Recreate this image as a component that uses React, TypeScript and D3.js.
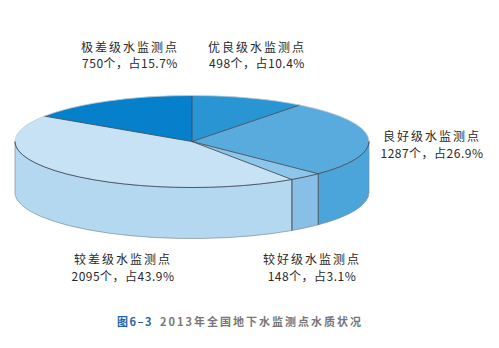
import React from "react";
import * as d3 from "d3";

const categories = ["优良级水监测点", "良好级水监测点", "较好级水监测点", "较差级水监测点", "极差级水监测点"];
const counts = [498, 1287, 148, 2095, 750];
const percents = ["10.4%", "26.9%", "3.1%", "43.9%", "15.7%"];
const topColors = ["#2995D3", "#5AABDD", "#8EC5EA", "#C6E2F4", "#0680CA"];
const sideColors = ["#1F8BCB", "#4BA5DA", "#88BFE6", "#B4D8EF", "#0574BA"];
const labelPos = [
  { x: 257, y: 51.5 },
  { x: 432, y: 141 },
  { x: 312, y: 264 },
  { x: 123, y: 264 },
  { x: 130, y: 51.5 },
];

const W = 499;
const H = 348;
const cx = 192;
const cy = 141.5;
const rx = 177;
const ry = 46;
const depth = 51;

export default function App() {
  const pie = d3.pie<number>().sort(null).startAngle(0).endAngle(2 * Math.PI);
  const arcs = pie(counts);
  const px = (a: number) => cx + rx * Math.sin(a);
  const py = (a: number) => cy - ry * Math.cos(a);

  const topPath = (a0: number, a1: number) => {
    const large = a1 - a0 > Math.PI ? 1 : 0;
    return `M${cx},${cy}L${px(a0)},${py(a0)}A${rx},${ry} 0 ${large} 1 ${px(a1)},${py(a1)}Z`;
  };
  const sidePath = (a0: number, a1: number) => {
    const s = Math.max(a0, Math.PI / 2);
    const e = Math.min(a1, (3 * Math.PI) / 2);
    if (e <= s) return null;
    return `M${px(s)},${py(s)}A${rx},${ry} 0 0 1 ${px(e)},${py(e)}L${px(e)},${py(e) + depth}A${rx},${ry} 0 0 0 ${px(s)},${py(s) + depth}Z`;
  };
  const frontArc = `M${px(Math.PI / 2)},${py(Math.PI / 2)}A${rx},${ry} 0 0 1 ${px((3 * Math.PI) / 2)},${py((3 * Math.PI) / 2)}`;
  const backArc = `M${px(-Math.PI / 2)},${py(-Math.PI / 2)}A${rx},${ry} 0 0 1 ${px(Math.PI / 2)},${py(Math.PI / 2)}`;

  const font = "'Noto Sans CJK SC', 'Noto Sans', sans-serif";

  return (
    <svg width={W} height={H} style={{ position: "absolute", left: 0, top: 0, background: "#fff" }}>
      <rect width={W} height={H} fill="#fff" />
      {arcs.map((a, i) => {
        const d = sidePath(a.startAngle, a.endAngle);
        return d ? <path key={"s" + i} d={d} fill={sideColors[i]} stroke="#7d8d9c" strokeWidth={0.7} /> : null;
      })}
      {arcs.map((a, i) =>
        a.startAngle > Math.PI / 2 && a.startAngle < (3 * Math.PI) / 2 ? (
          <line key={"v" + i} x1={px(a.startAngle)} y1={py(a.startAngle)} x2={px(a.startAngle)} y2={py(a.startAngle) + depth} stroke="#4d5d6c" strokeWidth={1} />
        ) : null
      )}
      {arcs.map((a, i) => (
        <path key={"t" + i} d={topPath(a.startAngle, a.endAngle)} fill={topColors[i]} />
      ))}
      {arcs.map((a, i) => (
        <line key={"r" + i} x1={cx} y1={cy} x2={px(a.startAngle)} y2={py(a.startAngle)} stroke="#3f4d5a" strokeWidth={0.9} />
      ))}
      <path d={backArc} fill="none" stroke="#c4ccd4" strokeWidth={0.8} />
      <path d={frontArc} fill="none" stroke="#3f4d5a" strokeWidth={0.9} />
      {arcs.map((a, i) => (
        <g key={"l" + i} fontFamily={font} fontSize={12} fill="#2a2a2a" textAnchor="middle">
          <text x={labelPos[i].x} y={labelPos[i].y} letterSpacing={2}>{categories[i]}</text>
          <text x={labelPos[i].x} y={labelPos[i].y + 16.5} letterSpacing={0.5}>{`${counts[i]}个，占${percents[i]}`}</text>
        </g>
      ))}
      <text x={117} y={325.5} fontFamily={font} fontSize={11} fontWeight="bold" letterSpacing={1.5}>
        <tspan fill="#1F64AC">图6–3</tspan>
        <tspan fill="#777" dx={7} letterSpacing={2}>2013年全国地下水监测点水质状况</tspan>
      </text>
    </svg>
  );
}
